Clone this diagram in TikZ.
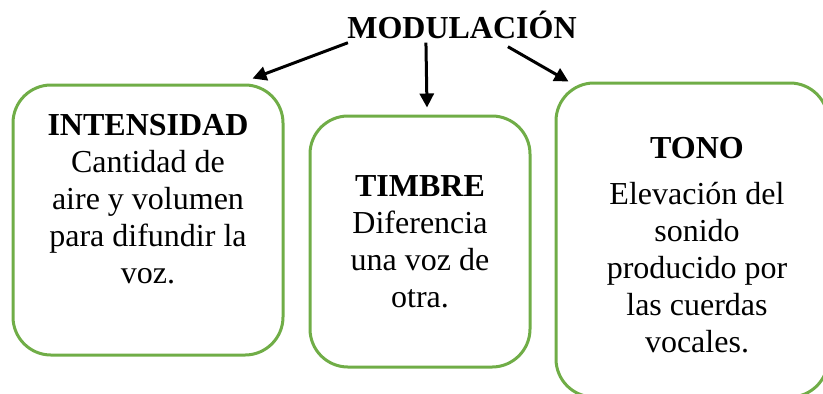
\documentclass[tikz,border=0pt]{standalone}
\usepackage{fontspec}
\setmainfont{Liberation Serif}
\usetikzlibrary{arrows.meta}
\definecolor{verd}{HTML}{70AD47}

\begin{document}
\begin{tikzpicture}[x=0.5pt,y=-0.5pt,
	caixa/.style={draw=verd, line width=1.5pt, rounded corners=19pt, inner sep=0pt},
	text caixa/.style={align=center, inner sep=0pt, anchor=base, font=\fontsize{16}{18.4}\selectfont},
	fletxa/.style={line width=1.5pt, -{Triangle[length=7pt,width=7pt]}}]
\useasboundingbox (0,0) rectangle (823,393);

% Titol
\node [inner sep=0pt, anchor=base, font=\fontsize{16}{18.4}\selectfont\bfseries] (Mod) at (462,38) {MODULACIÓN};
%%%%%%%%%%%%%%%%%%%%%%%%%%%%%%%%%%%%%%%%%%%%%%%%%%%%%%%%%%%%%%%%%%%%%%%%%%%%%%%%
% Caixes
\node [caixa, minimum width=135pt, minimum height=135pt]	(Int)	at (148,220)	{};
\node [caixa, minimum width=110pt, minimum height=125.5pt]	(Tim)	at (420,241.5)	{};
\node [caixa, minimum width=136pt, minimum height=157pt]	(Ton)	at (692,240)	{};

% el text va per la darrera linia
\node [text caixa] (IntT) at (148,283) {\textbf{INTENSIDAD}\\Cantidad de\\aire y volumen\\para difundir la\\voz.};
\node [text caixa] (TimT) at (420,307) {\textbf{TIMBRE}\\Diferencia\\una voz de\\otra.};
\node [text caixa] (TonT) at (697,352) {\textbf{TONO}\\[4.7pt]Elevación del\\sonido\\producido por\\las cuerdas\\vocales.};
%%%%%%%%%%%%%%%%%%%%%%%%%%%%%%%%%%%%%%%%%%%%%%%%%%%%%%%%%%%%%%%%%%%%%%%%%%%%%%%%
% Fletxes
\draw [fletxa] ([shift={(1,4)}]Mod.south west)	-- ([shift={(-32,-5)}]Int.north east);
\draw [fletxa] ([shift={(79,4)}]Mod.south west)	-- ([shift={(7,-7)}]Tim.north);
\draw [fletxa] ([shift={(161,8)}]Mod.south west)	-- ([shift={(14,0)}]Ton.north west);

\end{tikzpicture}
\end{document}
